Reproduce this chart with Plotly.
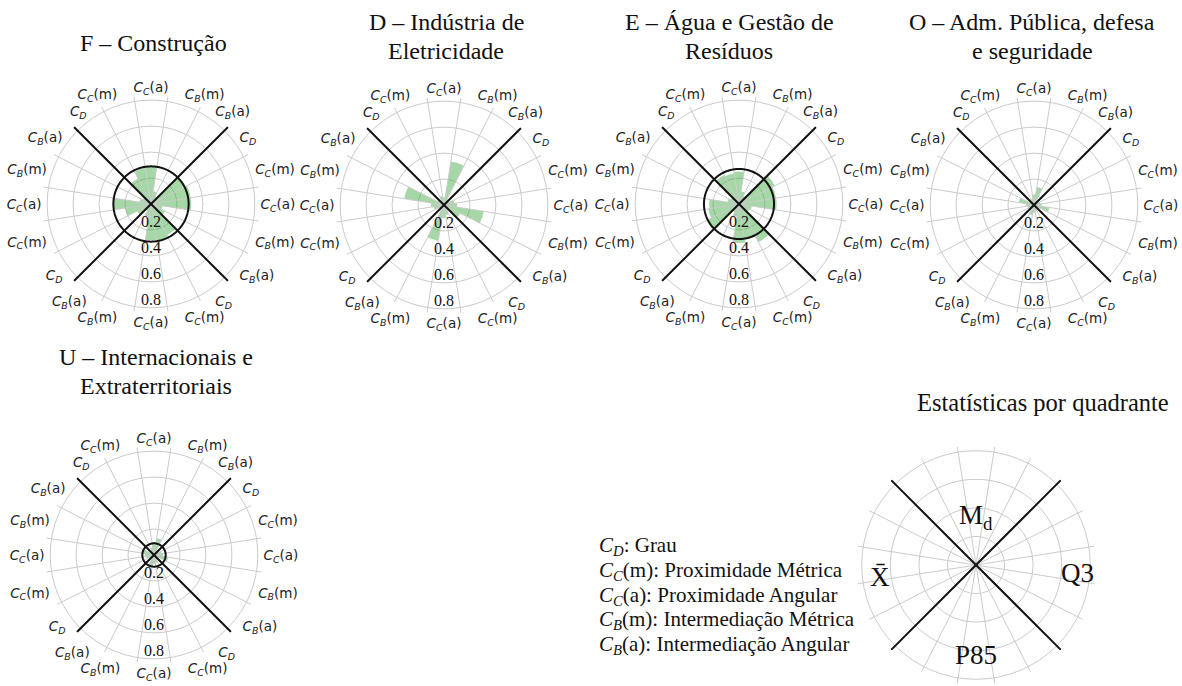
import numpy as np
import plotly.graph_objects as go

W, H = 1182, 686

# ---- data -------------------------------------------------------------
# Angular categories, clockwise from the top (one every 18 degrees)
metric_names = [
    "<i>C</i><sub><i>C</i></sub>(a)",
    "<i>C</i><sub><i>B</i></sub>(m)",
    "<i>C</i><sub><i>B</i></sub>(a)",
    "<i>C</i><sub><i>D</i></sub>",
    "<i>C</i><sub><i>C</i></sub>(m)",
]
angle_labels = metric_names * 4

panel_titles = [
    ["F – Construção"],
    ["D – Indústria de", "Eletricidade"],
    ["E – Água e Gestão de", "Resíduos"],
    ["O – Adm. Pública, defesa", "e seguridade"],
    ["U – Internacionais e", "Extraterritoriais"],
]

# Sector values (same order as angle_labels)
vals_F = [0.29, 0.10, 0.07, 0.30, 0.31, 0.31, 0.09, 0.12, 0.27, 0.29,
          0.28, 0.10, 0.06, 0.12, 0.20, 0.29, 0.09, 0.07, 0.22, 0.28]
vals_D = [0.06, 0.34, 0.05, 0.04, 0.08, 0.10, 0.31, 0.14, 0.05, 0.08,
          0.10, 0.28, 0.05, 0.04, 0.08, 0.10, 0.31, 0.06, 0.04, 0.07]
vals_E = [0.25, 0.10, 0.07, 0.31, 0.29, 0.29, 0.10, 0.09, 0.33, 0.28,
          0.30, 0.10, 0.07, 0.28, 0.24, 0.23, 0.09, 0.07, 0.25, 0.24]
vals_O = [0.08, 0.14, 0.04, 0.03, 0.05, 0.06, 0.12, 0.03, 0.03, 0.05,
          0.06, 0.08, 0.03, 0.03, 0.05, 0.06, 0.12, 0.03, 0.03, 0.05]
vals_U = [0.10, 0.13, 0.04, 0.03, 0.06, 0.07, 0.11, 0.03, 0.04, 0.06,
          0.07, 0.09, 0.03, 0.03, 0.06, 0.07, 0.09, 0.03, 0.03, 0.06]
panel_values = [vals_F, vals_D, vals_E, vals_O, vals_U]

# Reference circle per panel (None = not drawn)
ref_circle = [0.29, None, 0.27, None, 0.09]

radial_ticks = [0.2, 0.4, 0.6, 0.8]
radial_ticktext = ["0.2", "0.4", "0.6", "0.8"]

legend_lines = [
    "<i>C</i><sub><i>D</i></sub>: Grau",
    "<i>C</i><sub><i>C</i></sub>(m): Proximidade Métrica",
    "<i>C</i><sub><i>C</i></sub>(a): Proximidade Angular",
    "<i>C</i><sub><i>B</i></sub>(m): Intermediação Métrica",
    "<i>C</i><sub><i>B</i></sub>(a): Intermediação Angular",
]
quadrant_names = ["M<sub>d</sub>", "Q3", "P85", "X\u0304"]
stats_title = "Estatísticas por quadrante"

# ---- layout geometry (pixels) -----------------------------------------
RMAX = 0.84
centers = [(151, 204), (444, 205), (739, 204), (1034, 205), (154, 555)]
radius_px = 109
title_x = [153, 446, 729, 1032, 156]
title_y = [[43], [22, 51], [22, 51], [22, 51], [357, 386]]
legend_center = (976, 565)
legend_radius = 120

SERIF = "Liberation Serif"
SANS = "DejaVu Sans"
GRID = "#cbcbcb"
BAR = "rgba(44,160,44,0.42)"

n = len(angle_labels)
step = 360 / n
theta_c = [i * step for i in range(n)]
theta_b = [i * step + step / 2 for i in range(n)]


def domain(cx, cy, r):
    return dict(x=[(cx - r) / W, (cx + r) / W],
                y=[1 - (cy + r) / H, 1 - (cy - r) / H])


def polar_layout(cx, cy, r, labels=True):
    return dict(
        domain=domain(cx, cy, r),
        bgcolor="white",
        angularaxis=dict(
            rotation=90, direction="clockwise",
            tickmode="array", tickvals=theta_c, ticktext=angle_labels,
            showticklabels=labels, showgrid=False, showline=False, ticks="",
            tickfont=dict(family=SANS, size=13.5, color="#222"),
        ),
        radialaxis=dict(
            range=[0, RMAX], tickvals=radial_ticks, showticklabels=False,
            showline=False, ticks="", gridcolor=GRID, gridwidth=1,
        ),
    )


def spokes(sub):
    r, t = [], []
    for a in theta_b:
        r += [0, RMAX, None]
        t += [a, a, None]
    return go.Scatterpolar(r=r, theta=t, mode="lines", subplot=sub,
                           line=dict(color=GRID, width=1),
                           hoverinfo="skip", showlegend=False)


def diagonals(sub):
    return go.Scatterpolar(
        r=[RMAX, 0, RMAX, None, RMAX, 0, RMAX],
        theta=[45, 45, 225, None, 135, 135, 315],
        mode="lines", subplot=sub, line=dict(color="#111", width=2),
        hoverinfo="skip", showlegend=False)


def paper_text(text, x, y, size, anchor="center"):
    return dict(text=text, x=x / W, y=1 - y / H, xref="paper", yref="paper",
                xanchor=anchor, yanchor="middle", showarrow=False,
                font=dict(family=SERIF, size=size, color="#111"))


fig = go.Figure()
layout = dict(width=W, height=H, margin=dict(l=0, r=0, t=0, b=0),
              paper_bgcolor="white", showlegend=False, annotations=[])

for i, (vals, (cx, cy)) in enumerate(zip(panel_values, centers)):
    sub = "polar" if i == 0 else f"polar{i + 1}"
    layout[sub] = polar_layout(cx, cy, radius_px)
    fig.add_trace(spokes(sub))
    fig.add_trace(go.Barpolar(r=vals, theta=theta_c, width=[step] * n,
                              subplot=sub, marker=dict(color=BAR, line=dict(width=0)),
                              showlegend=False))
    if ref_circle[i] is not None:
        ang = np.linspace(0, 360, 361)
        fig.add_trace(go.Scatterpolar(r=[ref_circle[i]] * len(ang), theta=ang,
                                      mode="lines", subplot=sub,
                                      line=dict(color="#111", width=2),
                                      hoverinfo="skip", showlegend=False))
    fig.add_trace(diagonals(sub))
    fig.add_trace(go.Scatterpolar(
        r=[t - 0.055 for t in radial_ticks], theta=[180] * len(radial_ticks),
        text=radial_ticktext, mode="text", subplot=sub,
        textfont=dict(family=SERIF, size=16, color="#111"),
        hoverinfo="skip", showlegend=False))
    for line, ty in zip(panel_titles[i], title_y[i]):
        layout["annotations"].append(paper_text(line, title_x[i], ty, 24))

# ---- quadrant key ------------------------------------------------------
sub = "polar6"
layout[sub] = polar_layout(*legend_center, legend_radius, labels=False)
fig.add_trace(spokes(sub))
fig.add_trace(diagonals(sub))

lx, ly = legend_center
quad_offsets = [(0, -48), (101, 8), (0, 90), (-96, 12)]
for name, (dx, dy) in zip(quadrant_names, quad_offsets):
    layout["annotations"].append(paper_text(name, lx + dx, ly + dy, 27))

layout["annotations"].append(paper_text(stats_title, 1043, 402, 24.5))

for j, line in enumerate(legend_lines):
    layout["annotations"].append(paper_text(line, 597, 546 + 24.8 * j, 21, anchor="left"))

fig.update_layout(**layout)
fig.write_html("out.html")
